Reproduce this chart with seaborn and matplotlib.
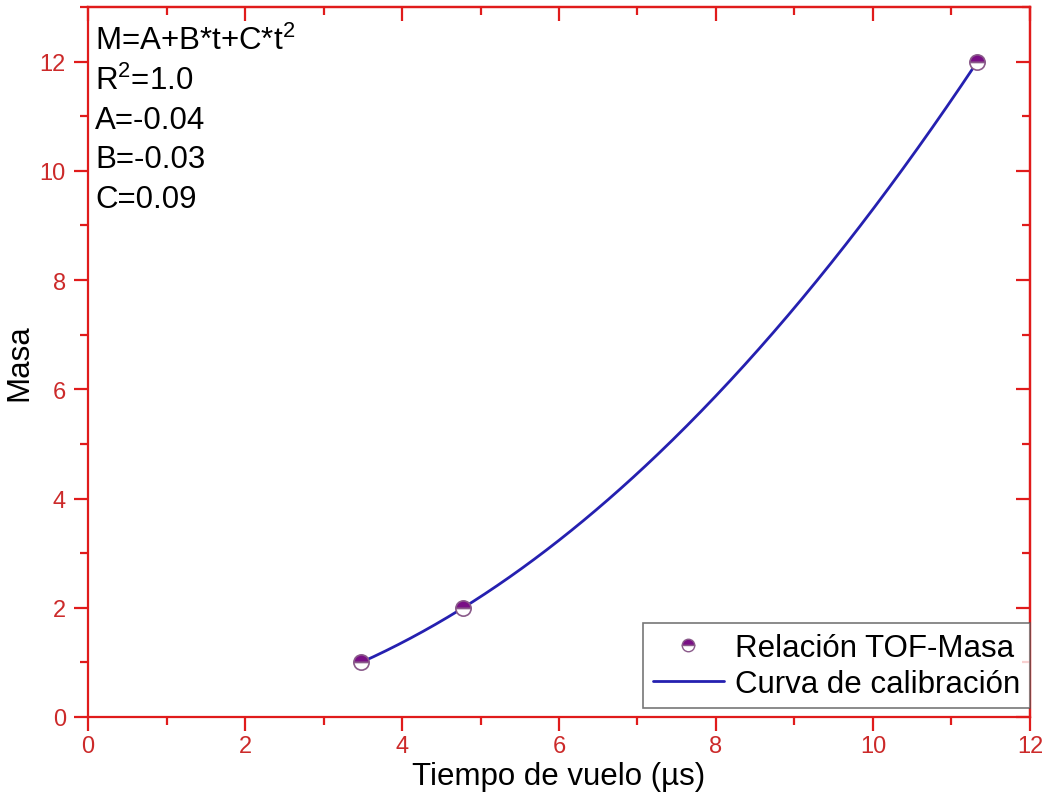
import numpy as np
import pandas as pd
import seaborn as sns
import matplotlib
matplotlib.use("Agg")
import matplotlib.pyplot as plt
from matplotlib.ticker import MultipleLocator
from matplotlib.lines import Line2D

# Calibration data: time of flight (µs) versus mass
tof_us = [3.48, 4.78, 11.33]
mass = [1.0, 2.0, 12.0]

fit_lines = ["M=A+B*t+C*t$^2$", "R$^2$=1.0", "A=-0.04", "B=-0.03", "C=0.09"]

x_ticks = [0, 2, 4, 6, 8, 10, 12]
y_ticks = [0, 2, 4, 6, 8, 10, 12]

sns.set_theme(style="white")
plt.rcParams["font.family"] = ["Liberation Sans", "DejaVu Sans"]
plt.rcParams["mathtext.fontset"] = "custom"
plt.rcParams["mathtext.rm"] = "Liberation Sans"

RED = "#e01b1b"
TICK_RED = "#cc2a2a"
PURPLE = "#7a0f86"
BLUE = "#2520b0"
BIG = 22.5

fig = plt.figure(figsize=(10.43, 8.03), dpi=100)
ax = fig.add_axes([0.0844, 0.1059, 0.9031, 0.8841])

df_pts = pd.DataFrame({"t": tof_us, "m": mass})

# Quadratic calibration curve through the measured points
coef = np.polyfit(tof_us, mass, 2)
t_curve = np.linspace(min(tof_us), max(tof_us), 300)
df_curve = pd.DataFrame({"t": t_curve, "m": np.polyval(coef, t_curve)})

sns.lineplot(data=df_curve, x="t", y="m", ax=ax, color=BLUE, lw=2.0, zorder=2)
sns.lineplot(data=df_pts, x="t", y="m", ax=ax, linestyle="", marker="o",
             markersize=11, fillstyle="top", color=PURPLE,
             markerfacecolor=PURPLE, markerfacecoloralt="white",
             markeredgecolor="#8a5a8a", markeredgewidth=1.2, zorder=3)

ax.set_xlim(0, 12)
ax.set_ylim(0, 13)
ax.set_xticks(x_ticks)
ax.set_yticks(y_ticks)
ax.xaxis.set_minor_locator(MultipleLocator(1))
ax.yaxis.set_minor_locator(MultipleLocator(1))

for sp in ax.spines.values():
    sp.set_color(RED)
    sp.set_linewidth(1.6)

ax.tick_params(axis="both", which="both", colors=RED, labelcolor=TICK_RED,
               labelsize=17, width=1.6, direction="out",
               bottom=True, left=True, top=False, right=False)
ax.tick_params(which="major", length=10)
ax.tick_params(which="minor", length=6)
ax.tick_params(axis="x", pad=3)
ax.tick_params(axis="y", pad=6)

# Mirrored axes on top and right with ticks pointing inward
top = ax.secondary_xaxis("top")
top.set_xticks(x_ticks)
top.xaxis.set_minor_locator(MultipleLocator(1))
top.tick_params(which="both", direction="in", colors=RED, width=1.6,
                top=True, labeltop=False)
top.tick_params(which="major", length=10)
top.tick_params(which="minor", length=6)
top.spines["top"].set_color(RED)
top.spines["top"].set_linewidth(1.6)

right = ax.secondary_yaxis("right")
right.set_yticks(y_ticks)
right.yaxis.set_minor_locator(MultipleLocator(1))
right.tick_params(which="both", direction="in", colors=RED, width=1.6,
                  right=True, labelright=False)
right.tick_params(which="major", length=10)
right.tick_params(which="minor", length=6)
right.spines["right"].set_color(RED)
right.spines["right"].set_linewidth(1.6)

ax.set_xlabel("Tiempo de vuelo (µs)", fontsize=BIG, color="black", labelpad=3)
ax.set_ylabel("Masa", fontsize=BIG, color="black", labelpad=4)

for i, line in enumerate(fit_lines):
    ax.text(0.0074, 0.9408 - i * 0.0556, line, transform=ax.transAxes,
            fontsize=BIG, va="baseline", ha="left", color="black")

handles = [
    Line2D([], [], linestyle="", marker="o", markersize=9, fillstyle="top",
           color=PURPLE, markerfacecoloralt="white",
           markeredgecolor="#8a5a8a", markeredgewidth=1.0),
    Line2D([], [], color=BLUE, lw=2.0),
]
leg = ax.legend(handles, ["Relación TOF-Masa", "Curva de calibración"],
                loc="lower right", bbox_to_anchor=(1.0, 0.012),
                fontsize=BIG, frameon=True, fancybox=False, shadow=False,
                handlelength=2.3, handletextpad=0.35, borderpad=0.3,
                labelspacing=0.2, borderaxespad=0.0, labelcolor="black")
leg.get_frame().set_edgecolor("#555555")
leg.get_frame().set_linewidth(1.2)

fig.savefig("out.png", dpi=100)
